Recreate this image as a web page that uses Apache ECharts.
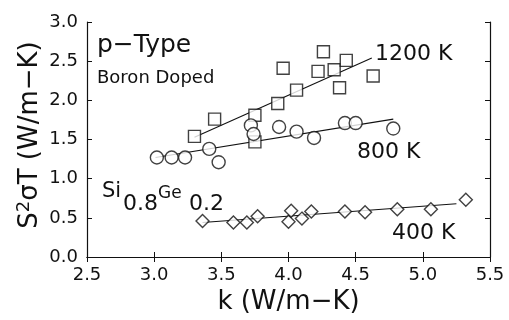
<!DOCTYPE html>
<html>
<head>
<meta charset="utf-8">
<script src="https://cdn.jsdelivr.net/npm/echarts@6/dist/echarts.min.js"></script>
<style>
  html, body { margin: 0; padding: 0; background: #fff; }
  #chart { width: 509px; height: 320px; }
</style>
</head>
<body>
<div id="chart"></div>
<script>
// values: [k, S^2 sigma T]
const pts1200 = [
  [3.30, 1.54], [3.45, 1.76], [3.75, 1.81], [3.75, 1.47], [3.92, 1.96],
  [3.96, 2.41], [4.06, 2.13], [4.22, 2.37], [4.26, 2.62], [4.34, 2.39],
  [4.38, 2.16], [4.43, 2.51], [4.63, 2.31]
];
const pts800 = [
  [3.02, 1.27], [3.13, 1.27], [3.23, 1.27], [3.41, 1.38], [3.48, 1.21],
  [3.72, 1.68], [3.74, 1.57], [3.93, 1.66], [4.06, 1.60], [4.19, 1.52],
  [4.42, 1.71], [4.50, 1.71], [4.78, 1.64]
];
const pts400 = [
  [3.36, 0.46], [3.59, 0.44], [3.69, 0.44], [3.77, 0.52], [4.00, 0.45],
  [4.02, 0.59], [4.10, 0.49], [4.17, 0.58], [4.42, 0.58], [4.57, 0.57],
  [4.81, 0.61], [5.06, 0.61], [5.32, 0.73]
];
// fitted lines (end points)
const fit1200 = [[3.30, 1.53], [4.62, 2.54]];
const fit800 = [[3.01, 1.27], [4.78, 1.76]];
const fit400 = [[3.36, 0.44], [5.25, 0.68]];

const xTicks = [2.5, 3.0, 3.5, 4.0, 4.5, 5.0, 5.5];
const yTicks = [0.0, 0.5, 1.0, 1.5, 2.0, 2.5, 3.0];

const FONT = 'DejaVu Sans';
const INK = '#111';

const chart = echarts.init(document.getElementById('chart'));

function markers(name, data, symbol, size) {
  return {
    name: name, type: 'scatter', data: data, symbol: symbol, symbolSize: size,
    itemStyle: { color: '#fff', borderColor: INK, borderWidth: 1.4 },
    z: 3, silent: true
  };
}
function fitLine(data) {
  return {
    type: 'line', data: data, showSymbol: false, symbol: 'none',
    lineStyle: { color: INK, width: 1.1 }, z: 2, silent: true
  };
}
function label(text, x, y, size, align) {
  return {
    type: 'text', x: x, y: y,
    style: { text: text, fill: INK, font: size + 'px "' + FONT + '"',
             align: align || 'left', verticalAlign: 'middle' }
  };
}

const axisCommon = {
  type: 'value',
  interval: 0.5,
  axisLine: { show: true, lineStyle: { color: INK, width: 1.2 } },
  axisTick: { show: true, inside: true, length: 5, lineStyle: { color: INK } },
  splitLine: { show: false }
};

chart.setOption({
  animation: false,
  backgroundColor: '#fff',
  grid: { left: 87, right: 19, top: 22, bottom: 56 },
  xAxis: [
    Object.assign({}, axisCommon, {
      min: xTicks[0], max: xTicks[xTicks.length - 1],
      axisLabel: { color: INK, fontFamily: FONT, fontSize: 18, margin: 9,
                   formatter: v => v.toFixed(1) },
      name: 'k (W/m\u2212K)', nameLocation: 'middle', nameGap: 32,
      nameTextStyle: { color: INK, fontFamily: FONT, fontSize: 26 }
    }),
    Object.assign({}, axisCommon, {
      position: 'top', min: xTicks[0], max: xTicks[xTicks.length - 1],
      axisLabel: { show: false }
    })
  ],
  yAxis: [
    Object.assign({}, axisCommon, {
      min: yTicks[0], max: yTicks[yTicks.length - 1],
      axisLabel: { color: INK, fontFamily: FONT, fontSize: 18, margin: 9,
                   formatter: v => v.toFixed(1) }
    }),
    Object.assign({}, axisCommon, {
      position: 'right', min: yTicks[0], max: yTicks[yTicks.length - 1],
      axisLabel: { show: false }
    })
  ],
  series: [
    fitLine(fit1200), fitLine(fit800), fitLine(fit400),
    markers('1200 K', pts1200, 'rect', 12),
    markers('800 K', pts800, 'circle', 13),
    markers('400 K', pts400, 'diamond', 13)
  ],
  graphic: [
    label('1200 K', 375, 54, 22),
    label('800 K', 357, 152, 22),
    label('400 K', 392, 233, 22),
    label('p\u2212Type', 97, 45, 25),
    label('Boron Doped', 97, 78, 18),
    label('Si', 102, 192, 21),
    label('0.8', 123, 204, 22),
    label('Ge', 158, 194, 17),
    label('0.2', 189, 204, 22),
    {
      type: 'text', x: 30, y: 135, rotation: Math.PI / 2,
      style: {
        text: '{a|S}{b|2}{a|\u03c3T (W/m\u2212K)}',
        align: 'center', verticalAlign: 'middle', fill: INK,
        rich: {
          a: { fontFamily: FONT, fontSize: 26, fill: INK, lineHeight: 30 },
          b: { fontFamily: FONT, fontSize: 18, fill: INK, verticalAlign: 'top', lineHeight: 30 }
        }
      }
    }
  ]
});
</script>
</body>
</html>
